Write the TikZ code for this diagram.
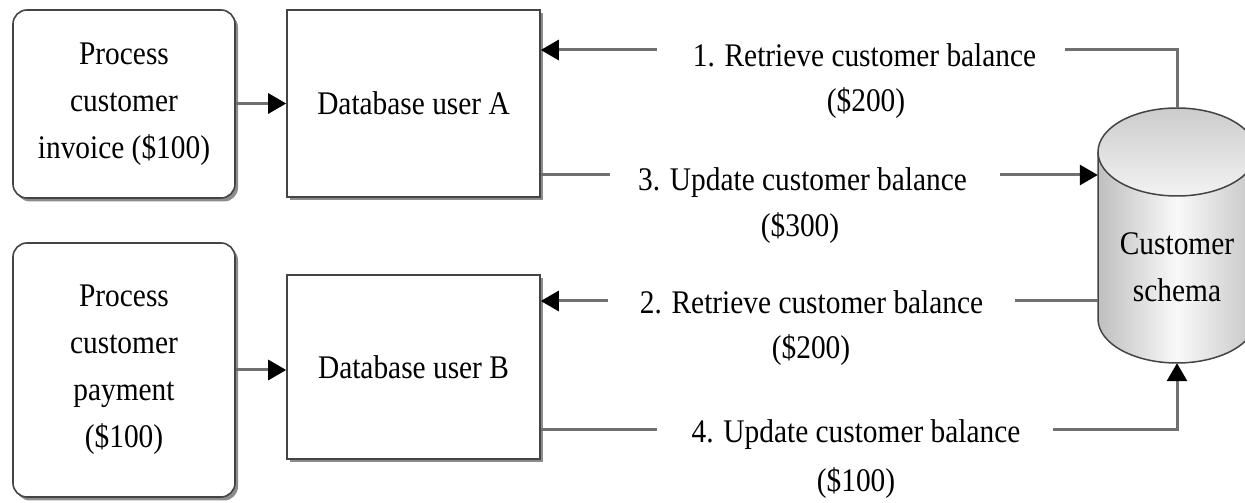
\documentclass[tikz,border=0pt]{standalone}
\usepackage{fontspec}
\setmainfont{Liberation Serif}[FakeStretch=0.89]
\usetikzlibrary{arrows.meta,shadows}
\definecolor{boxline}{HTML}{444444}
\definecolor{linegray}{HTML}{707070}
\begin{document}
\begin{tikzpicture}[x=1pt,y=1pt,
  font=\fontsize{33}{47}\selectfont,
  boxshadow/.style={drop shadow={shadow xshift=3pt,shadow yshift=-3.5pt,fill=black!60,opacity=0.75}},
  proc/.style={draw=boxline,line width=1.6pt,rounded corners=14pt,fill=white,
    minimum width=222pt,align=center,inner sep=0pt,boxshadow},
  user/.style={draw=boxline,line width=1.6pt,fill=white,minimum width=253pt,
    inner sep=0pt,boxshadow},
  lbl/.style={inner sep=0pt},
  flow/.style={draw=linegray,line width=3pt},
  tip/.style={-{Triangle[length=18pt,width=20pt,color=black]}},
  cylrim/.style={draw=boxline,line width=1.5pt}]
\useasboundingbox (0,0) rectangle (1245,503);

% process boxes and database users
\node[proc,minimum height=188pt] (pA) at (124,399) {Process\\customer\\invoice (\$100)};
\node[proc,minimum height=254pt] (pB) at (124,133) {Process\\customer\\payment\\(\$100)};
\node[user,minimum height=187pt] (uA) at (413.5,399.5) {Database user A};
\node[user,minimum height=184pt] (uB) at (413.5,136) {Database user B};

% customer schema cylinder
\shade[left color=gray!50,right color=gray!45,middle color=gray!5]
  (1098,351) -- (1098,184) arc[start angle=180,end angle=360,x radius=79pt,y radius=44pt]
  -- (1256,351) -- cycle;
\draw[cylrim] (1098,351) -- (1098,184)
  arc[start angle=180,end angle=360,x radius=79pt,y radius=44pt] -- (1256,351);
\shade[top color=gray!40,bottom color=gray!10] (1177,351) ellipse[x radius=79pt,y radius=44pt];
\draw[cylrim] (1177,351) ellipse[x radius=79pt,y radius=44pt];
\node[minimum width=158pt,minimum height=255pt,inner sep=0pt] (cyl) at (1177,267.5) {};
\node[lbl,align=center] (cyltext) at (1177,235.5) {Customer\\schema};

% step labels
\node[lbl] (l1) at (864.5,448) {1. Retrieve customer balance};
\node[lbl] (a1) at (866,400) {(\$200)};
\node[lbl] (l3) at (802.5,320) {3. Update customer balance};
\node[lbl] (a3) at (800,275) {(\$300)};
\node[lbl] (l2) at (811.5,201) {2. Retrieve customer balance};
\node[lbl] (a2) at (811,153) {(\$200)};
\node[lbl] (l4) at (856,68) {4. Update customer balance};
\node[lbl] (a4) at (856,20) {(\$100)};

% break points of the message lines around their labels
\coordinate (l1r) at (1065,453); \coordinate (l1l) at (657,453);
\coordinate (l3l) at (610,328);  \coordinate (l3r) at (1000,328);
\coordinate (l2r) at (1015,202); \coordinate (l2l) at (608,202);
\coordinate (l4l) at (657,73);   \coordinate (l4r) at (1053,73);

% process to user arrows
\draw[flow,tip] (pA.east |- uA.west) -- (uA.west);
\draw[flow,tip] (pB.east) -- (pB.east -| uB.west);

% 1. retrieve (A)
\draw[flow] (cyl.north) |- (l1r);
\draw[flow,tip] (l1l) -- (l1l -| uA.east);
% 3. update (A)
\draw[flow] (l3l -| uA.east) -- (l3l);
\draw[flow,tip] (l3r) -- (l3r -| cyl.west);
% 2. retrieve (B)
\draw[flow] (l2r -| cyl.west) -- (l2r);
\draw[flow,tip] (l2l) -- (l2l -| uB.east);
% 4. update (B)
\draw[flow] (l4l -| uB.east) -- (l4l);
\draw[flow,tip] (l4r) -| (cyl.south);
\end{tikzpicture}
\end{document}
